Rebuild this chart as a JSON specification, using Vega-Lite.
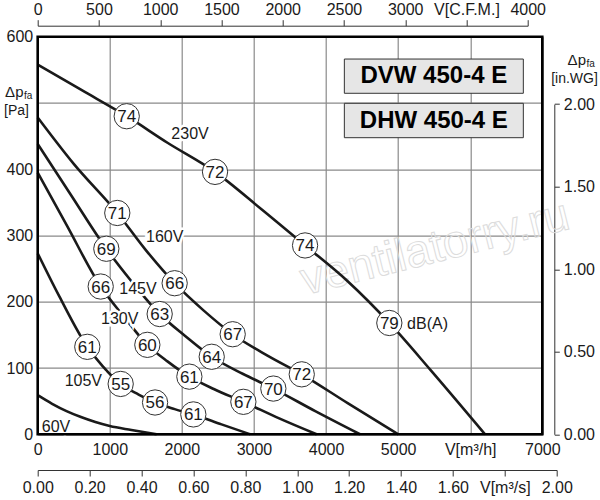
{
  "$schema": "https://vega.github.io/schema/vega-lite/v6.json",
  "width": 504.6,
  "height": 397.6,
  "autosize": {"type": "none"},
  "padding": {"left": 37.7, "top": 36.7, "right": 57.7, "bottom": 65.7},
  "background": "white",
  "config": {
    "view": {"stroke": null},
    "font": "Liberation Sans",
    "axis": {
      "labelFont": "Liberation Sans",
      "labelFontSize": 16,
      "labelColor": "#1a1a1a",
      "labelFlush": false,
      "labelOverlap": false,
      "labelBound": false,
      "tickColor": "#333333",
      "domainColor": "#333333",
      "domainWidth": 1,
      "tickWidth": 1,
      "title": null
    },
    "text": {"font": "Liberation Sans", "color": "#1a1a1a"}
  },
  "datasets": {
    "curves": [
      {"v": "60V", "q": 0, "p": 59}, {"v": "60V", "q": 200, "p": 46}, {"v": "60V", "q": 400, "p": 35}, {"v": "60V", "q": 600, "p": 26},
      {"v": "60V", "q": 800, "p": 18.5}, {"v": "60V", "q": 1000, "p": 12.5}, {"v": "60V", "q": 1300, "p": 6.5}, {"v": "60V", "q": 1650, "p": 0},
      {"v": "105V", "q": 0, "p": 273}, {"v": "105V", "q": 300, "p": 208}, {"v": "105V", "q": 688, "p": 132}, {"v": "105V", "q": 900, "p": 103},
      {"v": "105V", "q": 1151, "p": 76}, {"v": "105V", "q": 1400, "p": 60}, {"v": "105V", "q": 1628, "p": 48}, {"v": "105V", "q": 1900, "p": 38},
      {"v": "105V", "q": 2159, "p": 30}, {"v": "105V", "q": 2550, "p": 15}, {"v": "105V", "q": 2948, "p": 0},
      {"v": "130V", "q": 0, "p": 395}, {"v": "130V", "q": 400, "p": 316}, {"v": "130V", "q": 874, "p": 223}, {"v": "130V", "q": 1200, "p": 177},
      {"v": "130V", "q": 1521, "p": 135}, {"v": "130V", "q": 1800, "p": 110}, {"v": "130V", "q": 2104, "p": 87}, {"v": "130V", "q": 2450, "p": 68},
      {"v": "130V", "q": 2853, "p": 49}, {"v": "130V", "q": 3350, "p": 24}, {"v": "130V", "q": 3870, "p": 0},
      {"v": "145V", "q": 0, "p": 438}, {"v": "145V", "q": 450, "p": 363}, {"v": "145V", "q": 952, "p": 280}, {"v": "145V", "q": 1300, "p": 231},
      {"v": "145V", "q": 1692, "p": 181.5}, {"v": "145V", "q": 2050, "p": 148}, {"v": "145V", "q": 2414, "p": 117}, {"v": "145V", "q": 2850, "p": 91},
      {"v": "145V", "q": 3269, "p": 69}, {"v": "145V", "q": 3850, "p": 35}, {"v": "145V", "q": 4472, "p": 0},
      {"v": "160V", "q": 0, "p": 478}, {"v": "160V", "q": 500, "p": 408}, {"v": "160V", "q": 1104, "p": 334}, {"v": "160V", "q": 1500, "p": 278},
      {"v": "160V", "q": 1900, "p": 228}, {"v": "160V", "q": 2300, "p": 187}, {"v": "160V", "q": 2705, "p": 151}, {"v": "160V", "q": 3200, "p": 118},
      {"v": "160V", "q": 3663, "p": 90.5}, {"v": "160V", "q": 4300, "p": 47}, {"v": "160V", "q": 5003, "p": 0},
      {"v": "230V", "q": 0, "p": 558}, {"v": "230V", "q": 600, "p": 520}, {"v": "230V", "q": 1235, "p": 480}, {"v": "230V", "q": 1800, "p": 440},
      {"v": "230V", "q": 2460, "p": 396}, {"v": "230V", "q": 3100, "p": 340}, {"v": "230V", "q": 3709, "p": 285}, {"v": "230V", "q": 4300, "p": 231},
      {"v": "230V", "q": 4878, "p": 168}, {"v": "230V", "q": 5442, "p": 98}, {"v": "230V", "q": 6206, "p": 0}
    ],
    "circles": [
      {"q": 1235, "p": 480, "db": "74"}, {"q": 2460, "p": 396, "db": "72"}, {"q": 3709, "p": 285, "db": "74"}, {"q": 4878, "p": 168, "db": "79"},
      {"q": 1104, "p": 334, "db": "71"}, {"q": 1900, "p": 228, "db": "66"}, {"q": 2705, "p": 151, "db": "67"}, {"q": 3663, "p": 90.5, "db": "72"},
      {"q": 952, "p": 280, "db": "69"}, {"q": 1692, "p": 181.5, "db": "63"}, {"q": 2414, "p": 117, "db": "64"}, {"q": 3269, "p": 69, "db": "70"},
      {"q": 874, "p": 223, "db": "66"}, {"q": 1521, "p": 135, "db": "60"}, {"q": 2104, "p": 87, "db": "61"}, {"q": 2853, "p": 49, "db": "67"},
      {"q": 688, "p": 132, "db": "61"}, {"q": 1151, "p": 76, "db": "55"}, {"q": 1628, "p": 48, "db": "56"}, {"q": 2159, "p": 30, "db": "61"}
    ],
    "labels": [
      {"q": 2113, "p": 453, "t": "230V"},
      {"q": 1762, "p": 298, "t": "160V"},
      {"q": 1391, "p": 219, "t": "145V"},
      {"q": 1138, "p": 174, "t": "130V"},
      {"q": 633, "p": 81, "t": "105V"},
      {"q": 254, "p": 11.5, "t": "60V"},
      {"q": 5408, "p": 166, "t": "dB(A)"}
    ],
    "boxes": [
      {"q": 4254, "q2": 6737, "p": 514.6, "p2": 566.3},
      {"q": 4254, "q2": 6737, "p": 447.6, "p2": 499.5}
    ],
    "boxText": [
      {"q": 5495, "p": 540.4, "t": "DVW 450-4 E"},
      {"q": 5495, "p": 473.5, "t": "DHW 450-4 E"}
    ],
    "titleMain": [
      {"q": -197, "p": 516, "t": "Δp"},
      {"q": 7606, "p": 565, "t": "Δp"}
    ],
    "titleSub": [
      {"q": -190, "p": 510.5, "t": "fa"},
      {"q": 7613, "p": 558.8, "t": "fa"}
    ],
    "titleUnit": [
      {"q": -294, "p": 488, "t": "[Pa]"},
      {"q": 7447, "p": 536, "t": "[in.WG]"}
    ]
  },
  "layer": [
    {
      "encoding": {
        "x": {
          "field": "q", "type": "quantitative",
          "scale": {"domain": [0, 7000], "nice": false, "zero": false},
          "axis": {
            "orient": "bottom",
            "values": [0, 1000, 2000, 3000, 4000, 5000, 6000, 7000],
            "format": "d",
            "labelExpr": "datum.value == 6000 ? 'V[m³/h]' : datum.label",
            "grid": true, "gridColor": "#8a8a8a", "gridWidth": 1.2,
            "ticks": false, "domain": false, "labelPadding": 7
          }
        },
        "y": {
          "field": "p", "type": "quantitative",
          "scale": {"domain": [0, 600], "nice": false},
          "axis": {
            "orient": "left",
            "values": [0, 100, 200, 300, 400, 500, 600],
            "format": "d",
            "labelExpr": "datum.value == 500 ? '' : datum.label",
            "grid": true, "gridColor": "#8a8a8a", "gridWidth": 1.2,
            "ticks": false, "domain": false, "labelPadding": 5
          }
        }
      },
      "layer": [
        {
          "data": {"values": [{"q": 5512, "p": 281, "t": "ventilatorry.ru"}]},
          "mark": {"type": "text", "angle": -14, "fontSize": 46, "fillOpacity": 0, "stroke": "#dcdcdc", "strokeWidth": 1, "align": "center", "baseline": "middle"},
          "encoding": {"text": {"field": "t"}}
        },
        {
          "data": {"name": "boxes"},
          "mark": {"type": "rect", "fill": "#e6e6e6", "stroke": "#333333", "strokeWidth": 1},
          "encoding": {"x2": {"field": "q2"}, "y2": {"field": "p2"}}
        },
        {
          "data": {"name": "boxText"},
          "mark": {"type": "text", "fontSize": 24, "fontWeight": "bold", "color": "#000000", "align": "center", "baseline": "middle"},
          "encoding": {"text": {"field": "t"}}
        },
        {
          "data": {"name": "curves"},
          "mark": {"type": "line", "interpolate": "monotone", "color": "#1a1a1a", "strokeWidth": 2.6},
          "encoding": {"detail": {"field": "v"}}
        },
        {
          "data": {"name": "labels"},
          "mark": {"type": "text", "fontSize": 16, "align": "center", "baseline": "middle", "fill": "white", "stroke": "white", "strokeWidth": 5},
          "encoding": {"text": {"field": "t"}}
        },
        {
          "data": {"name": "labels"},
          "mark": {"type": "text", "fontSize": 16, "align": "center", "baseline": "middle"},
          "encoding": {"text": {"field": "t"}}
        },
        {
          "data": {"values": [{"q": 0, "q2": 7000, "p": 0, "p2": 600}]},
          "mark": {"type": "rect", "fill": null, "fillOpacity": 0, "stroke": "#000000", "strokeWidth": 2.6},
          "encoding": {"x2": {"field": "q2"}, "y2": {"field": "p2"}}
        },
        {
          "data": {"name": "circles"},
          "mark": {"type": "point", "shape": "circle", "filled": true, "fill": "white", "stroke": "#333333", "strokeWidth": 1, "size": 640, "opacity": 1}
        },
        {
          "data": {"name": "circles"},
          "mark": {"type": "text", "fontSize": 17, "align": "center", "baseline": "middle", "dy": 1},
          "encoding": {"text": {"field": "db"}}
        },
        {
          "data": {"name": "titleMain"},
          "mark": {"type": "text", "fontSize": 15, "align": "right", "baseline": "middle"},
          "encoding": {"text": {"field": "t"}}
        },
        {
          "data": {"name": "titleSub"},
          "mark": {"type": "text", "fontSize": 10, "align": "left", "baseline": "middle"},
          "encoding": {"text": {"field": "t"}}
        },
        {
          "data": {"name": "titleUnit"},
          "mark": {"type": "text", "fontSize": 14, "align": "center", "baseline": "middle"},
          "encoding": {"text": {"field": "t"}}
        }
      ]
    },
    {
      "data": {"values": [{"cfm": 0}, {"cfm": 4000}]},
      "mark": {"type": "point", "opacity": 0},
      "encoding": {
        "x": {
          "field": "cfm", "type": "quantitative",
          "scale": {"domain": [0, 4000], "range": [0, 490], "nice": false, "zero": false},
          "axis": {
            "orient": "top", "offset": 11,
            "values": [0, 500, 1000, 1500, 2000, 2500, 3000, 3500, 4000],
            "format": "d",
            "labelExpr": "datum.value == 3500 ? 'V[C.F.M.]' : datum.label",
            "grid": false, "ticks": true, "tickSize": 6, "domain": true, "labelPadding": 2
          }
        }
      }
    },
    {
      "data": {"values": [{"ms": 0}, {"ms": 2}]},
      "mark": {"type": "point", "opacity": 0},
      "encoding": {
        "x": {
          "field": "ms", "type": "quantitative",
          "scale": {"domain": [0, 2], "range": [0, 519], "nice": false, "zero": false},
          "axis": {
            "orient": "bottom", "offset": 35.7,
            "values": [0, 0.2, 0.4, 0.6, 0.8, 1.0, 1.2, 1.4, 1.6, 1.8, 2.0],
            "format": ".2f",
            "labelExpr": "datum.value > 1.79 && datum.value < 1.81 ? 'V[m³/s]' : datum.label",
            "grid": false, "ticks": true, "tickSize": 6, "domain": true, "labelPadding": 3
          }
        }
      }
    },
    {
      "data": {"values": [{"wg": 0}, {"wg": 2}]},
      "mark": {"type": "point", "opacity": 0},
      "encoding": {
        "y": {
          "field": "wg", "type": "quantitative",
          "scale": {"domain": [0, 2], "range": [397.6, 67.4], "nice": false, "zero": false},
          "axis": {
            "orient": "right", "offset": 12,
            "values": [0, 0.5, 1.0, 1.5, 2.0],
            "format": ".2f",
            "grid": false, "ticks": true, "tickSize": 5, "domain": true, "labelPadding": 4
          }
        }
      }
    }
  ],
  "resolve": {"scale": {"x": "independent", "y": "independent"}}
}
